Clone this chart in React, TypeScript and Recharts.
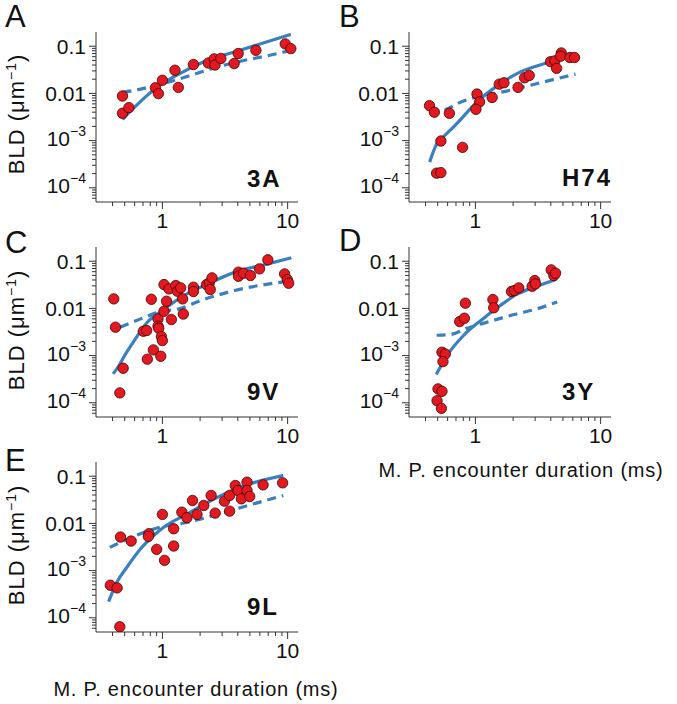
import React from 'react'
import { ScatterChart, Scatter, XAxis, YAxis } from 'recharts'

// axis ticks
const xMajorTicks = [1, 10]
const xMajorLabels = ['1', '10']
const xMinorMult = [2, 3, 4, 5, 6, 7, 8, 9]
const yMajorTicks = [0.0001, 0.001, 0.01, 0.1]
const yMajorLabels = [['10', '−4'], ['10', '−3'], ['0.01', ''], ['0.1', '']]

// panel A (3A)
const dotsX_3A = [0.48, 0.48, 0.54, 0.88, 0.93, 1.0, 1.26, 1.34, 1.77, 2.33, 2.59, 2.63, 2.93, 3.74, 4.03, 5.58, 9.57, 10.6]
const dotsY_3A = [0.0088, 0.0038, 0.005, 0.0132, 0.0099, 0.019, 0.031, 0.0134, 0.041, 0.044, 0.054, 0.04, 0.055, 0.043, 0.07, 0.082, 0.112, 0.089]
const solidX_3A = [0.48, 0.6, 0.76, 1.0, 1.17, 1.4, 2.15, 3.98, 10.6]
const solidY_3A = [0.0028, 0.0051, 0.0092, 0.0165, 0.0207, 0.027, 0.047, 0.079, 0.178]
const dashX_3A = [0.48, 0.61, 1.0, 1.68, 2.43, 3.74, 7.36, 10.3]
const dashY_3A = [0.0105, 0.0117, 0.016, 0.024, 0.033, 0.045, 0.065, 0.08]

// panel B (H74)
const dotsX_H74 = [0.43, 0.47, 0.62, 0.53, 0.79, 0.49, 0.53, 1.03, 1.08, 1.01, 1.36, 1.55, 1.69, 2.19, 2.47, 2.69, 3.98, 4.31, 4.45, 4.85, 4.8, 5.68, 6.19]
const dotsY_H74 = [0.0055, 0.004, 0.0038, 0.00098, 0.00072, 0.000204, 0.00021, 0.0097, 0.0066, 0.0046, 0.0082, 0.0157, 0.0168, 0.0134, 0.0214, 0.024, 0.047, 0.049, 0.034, 0.072, 0.0615, 0.0576, 0.0576]
const solidX_H74 = [0.431, 0.494, 0.557, 0.714, 1.03, 1.4, 2.29, 4.23, 4.6]
const solidY_H74 = [0.00035, 0.00088, 0.00121, 0.00232, 0.0066, 0.0128, 0.0286, 0.0506, 0.056]
const dashX_H74 = [0.43, 0.55, 0.72, 1.03, 1.58, 2.59, 4.23, 6.3]
const dashY_H74 = [0.0044, 0.0044, 0.0061, 0.0085, 0.0105, 0.0143, 0.0198, 0.0256]

// panel C (9V)
const dotsX_9V = [0.409, 0.422, 0.486, 0.457, 0.704, 0.749, 0.758, 0.847, 0.816, 0.923, 0.923, 0.935, 0.982, 1.0, 0.97, 1.03, 1.03, 1.08, 1.13, 1.18, 1.28, 1.32, 1.4, 1.45, 1.47, 1.77, 1.77, 2.25, 2.37, 2.41, 2.49, 4.05, 4.05, 4.44, 5.05, 5.96, 6.95, 9.46, 9.94, 10.2]
const dotsY_9V = [0.0159, 0.004, 0.00054, 0.000162, 0.00328, 0.0034, 0.00084, 0.00132, 0.0156, 0.006, 0.0042, 0.0038, 0.00253, 0.00208, 0.00097, 0.0087, 0.032, 0.0142, 0.0259, 0.0058, 0.0305, 0.0231, 0.0272, 0.0159, 0.0076, 0.0281, 0.0228, 0.032, 0.0347, 0.0251, 0.0444, 0.0585, 0.048, 0.0557, 0.0497, 0.0688, 0.107, 0.0538, 0.0408, 0.0342]
const solidX_9V = [0.404, 0.449, 0.499, 0.575, 0.758, 1.0, 1.5, 2.3, 3.76, 6.95, 10.7]
const solidY_9V = [0.00041, 0.00061, 0.001, 0.0018, 0.0051, 0.009, 0.019, 0.033, 0.058, 0.088, 0.118]
const dashX_9V = [0.46, 0.67, 1.0, 1.3, 2.03, 3.76, 9.6]
const dashY_9V = [0.004, 0.006, 0.0088, 0.0095, 0.0147, 0.0239, 0.037]

// panel D (3Y)
const dotsX_3Y = [0.494, 0.503, 0.541, 0.535, 0.541, 0.575, 0.551, 0.749, 0.817, 0.832, 1.38, 1.4, 1.94, 2.05, 2.22, 2.84, 2.98, 3.02, 4.03, 4.23, 4.37]
const dotsY_3Y = [0.000111, 0.000197, 0.000175, 0.0000764, 0.00118, 0.00108, 0.000746, 0.00526, 0.0062, 0.0129, 0.0154, 0.0103, 0.0228, 0.0239, 0.0272, 0.0295, 0.0389, 0.0331, 0.0655, 0.0497, 0.0557]
const solidX_3Y = [0.488, 0.593, 0.807, 1.1, 1.58, 2.15, 3.0, 4.4]
const solidY_3Y = [0.0004, 0.001, 0.0027, 0.0055, 0.0115, 0.02, 0.0286, 0.041]
const dashX_3Y = [0.49, 0.63, 0.86, 1.24, 2.03, 3.11, 4.5]
const dashY_3Y = [0.0027, 0.0028, 0.0038, 0.0051, 0.0074, 0.0098, 0.0137]

// panel E (9L)
const dotsX_9L = [0.384, 0.435, 0.457, 0.463, 0.563, 0.781, 0.772, 0.9, 1.0, 1.04, 1.23, 1.23, 1.43, 1.57, 1.74, 1.89, 2.14, 2.45, 2.64, 3.13, 3.44, 3.44, 3.82, 4.01, 4.27, 4.74, 4.74, 4.98, 6.37, 9.12]
const dotsY_9L = [0.00049, 0.00043, 0.0000646, 0.00514, 0.00423, 0.00605, 0.0053, 0.00282, 0.0155, 0.00165, 0.0077, 0.00332, 0.0173, 0.0132, 0.0306, 0.0155, 0.024, 0.0391, 0.0165, 0.0296, 0.0391, 0.0182, 0.0636, 0.0498, 0.0332, 0.0747, 0.0498, 0.0372, 0.0656, 0.0723]
const solidX_9L = [0.372, 0.435, 0.523, 0.67, 0.857, 1.03, 1.59, 2.6, 4.54, 9.23]
const solidY_9L = [0.00022, 0.00058, 0.0012, 0.0029, 0.0056, 0.0084, 0.016, 0.0332, 0.0636, 0.103]
const dashX_9L = [0.38, 0.592, 0.97, 1.49, 2.6, 4.83, 9.23]
const dashY_9L = [0.0031, 0.0053, 0.0084, 0.0102, 0.0148, 0.024, 0.039]

const FONT = '"Liberation Sans", Arial, Helvetica, sans-serif'
const AXIS = '#333'
const BLUE = '#3a7fbf'
const RED = '#e3191f'

const zip = (xs: number[], ys: number[]) => xs.map((x, i) => ({ x, y: ys[i] }))

const xTicks = [0.1, 1].flatMap((d) => xMinorMult.map((m) => +(m * d).toPrecision(3))).filter((v) => v >= 0.4).concat(xMajorTicks).sort((a, b) => a - b)
const yTicks = [0.00001, 0.0001, 0.001, 0.01]
  .flatMap((d) => xMinorMult.map((m) => +(m * d).toPrecision(3)))
  .filter((v) => v > 0.00005 && v < 0.2)
  .concat(yMajorTicks)
  .sort((a, b) => a - b)

const isMajor = (list: number[], v: number) => list.findIndex((t) => Math.abs(t - v) / t < 1e-6)

function XTick(props: any) {
  const { x, y, payload } = props
  const i = isMajor(xMajorTicks, payload.value)
  if (i < 0) return <line x1={x} x2={x} y1={y} y2={y + 4} stroke={AXIS} />
  return (
    <g>
      <line x1={x} x2={x} y1={y} y2={y + 7} stroke={AXIS} />
      <text x={x} y={y + 25.5} textAnchor="middle" fontSize={21} fontFamily={FONT} fill="#111">
        {xMajorLabels[i]}
      </text>
    </g>
  )
}

function YTick(props: any) {
  const { x, y, payload } = props
  const i = isMajor(yMajorTicks, payload.value)
  if (i < 0) return <line x1={x} x2={x - 4} y1={y} y2={y} stroke={AXIS} />
  const [base, exp] = yMajorLabels[i]
  return (
    <g>
      <line x1={x} x2={x - 7} y1={y} y2={y} stroke={AXIS} />
      {exp ? (
        <text x={x - 10} y={y + 5.5} textAnchor="end" fontSize={21} fontFamily={FONT} fill="#111">
          <tspan>{base}</tspan>
          <tspan dy={-10} fontSize={14}>{exp}</tspan>
        </text>
      ) : (
        <text x={x - 10} y={y + 7.5} textAnchor="end" fontSize={21} fontFamily={FONT} fill="#111">
          {base}
        </text>
      )}
    </g>
  )
}

const Dot = (p: any) => <circle cx={p.cx} cy={p.cy} r={5.2} fill={RED} stroke="#3b0505" strokeWidth={0.8} />
const NoDot = () => <g />

function Panel({ left, top, dots, solid, dash }: any) {
  return (
    <div style={{ position: 'absolute', left, top }}>
      <ScatterChart width={302} height={220} margin={{ top: 10, right: 20, bottom: 0, left: 0 }}>
        <XAxis
          type="number"
          dataKey="x"
          scale="log"
          domain={[0.295, 12.1]}
          allowDataOverflow
          ticks={xTicks}
          interval={0}
          height={40}
          tickSize={0}
          tickMargin={0}
          tickLine={false}
          stroke={AXIS}
          tick={(p: any) => <XTick {...p} />}
        />
        <YAxis
          type="number"
          dataKey="y"
          scale="log"
          domain={[0.00005, 0.2]}
          allowDataOverflow
          ticks={yTicks}
          interval={0}
          width={80}
          tickSize={0}
          tickMargin={0}
          tickLine={false}
          stroke={AXIS}
          tick={(p: any) => <YTick {...p} />}
        />
        <Scatter
          data={dash}
          fill={BLUE}
          line={{ stroke: BLUE, strokeWidth: 3.2, strokeDasharray: '9 6' }}
          lineJointType="monotoneX"
          shape={NoDot}
          isAnimationActive={false}
        />
        <Scatter
          data={solid}
          fill={BLUE}
          line={{ stroke: BLUE, strokeWidth: 3.2 }}
          lineJointType="monotoneX"
          shape={NoDot}
          isAnimationActive={false}
        />
        <Scatter data={dots} fill={RED} shape={Dot} isAnimationActive={false} />
      </ScatterChart>
    </div>
  )
}

const panels = [
  { key: 'A', name: '3A', left: 15.5, top: 22, dots: zip(dotsX_3A, dotsY_3A), solid: zip(solidX_3A, solidY_3A), dash: zip(dashX_3A, dashY_3A) },
  { key: 'B', name: 'H74', left: 328.7, top: 22, dots: zip(dotsX_H74, dotsY_H74), solid: zip(solidX_H74, solidY_H74), dash: zip(dashX_H74, dashY_H74) },
  { key: 'C', name: '9V', left: 15.5, top: 236.7, dots: zip(dotsX_9V, dotsY_9V), solid: zip(solidX_9V, solidY_9V), dash: zip(dashX_9V, dashY_9V) },
  { key: 'D', name: '3Y', left: 328.7, top: 236.7, dots: zip(dotsX_3Y, dotsY_3Y), solid: zip(solidX_3Y, solidY_3Y), dash: zip(dashX_3Y, dashY_3Y) },
  { key: 'E', name: '9L', left: 15.5, top: 451.5, dots: zip(dotsX_9L, dotsY_9L), solid: zip(solidX_9L, solidY_9L), dash: zip(dashX_9L, dashY_9L) },
]

// text placement (letter, name, y-title, x-title)
const letterPos = [[5, 27], [339, 27], [5, 253], [339, 251], [5, 471]]
const namePos = [[247, 187], [562, 186], [247, 400], [562, 400], [247, 615]]
const yTitleY = [114, null, 330, null, 545]
const xTitlePos = [null, null, null, [521, 476.7], [196, 695.7]]

function BldTitle({ cy }: { cy: number }) {
  return (
    <text x={23.5} y={cy} transform={`rotate(-90 23.5 ${cy})`} textAnchor="middle" fontSize={22} letterSpacing={1} fontFamily={FONT} fill="#111">
      BLD (μm<tspan dy={-8} fontSize={14}>−1</tspan><tspan dy={8}>)</tspan>
    </text>
  )
}

export default function App() {
  return (
    <div style={{ position: 'absolute', left: 0, top: 0, width: 677, height: 704, background: '#fff', fontFamily: FONT }}>
      {panels.map((p) => (
        <Panel key={p.key} {...p} />
      ))}
      <svg width={677} height={704} style={{ position: 'absolute', left: 0, top: 0, pointerEvents: 'none' }}>
        {panels.map((p, i) => (
          <g key={p.key}>
            <text x={letterPos[i][0]} y={letterPos[i][1]} fontSize={31} fontFamily={FONT} fill="#111">{p.key}</text>
            <text x={namePos[i][0]} y={namePos[i][1]} fontSize={24} fontWeight="bold" letterSpacing={2} fontFamily={FONT} fill="#111">{p.name}</text>
            {yTitleY[i] != null && <BldTitle cy={yTitleY[i] as number} />}
            {xTitlePos[i] && (
              <text x={xTitlePos[i]![0]} y={xTitlePos[i]![1]} textAnchor="middle" fontSize={20} letterSpacing={0.8} fontFamily={FONT} fill="#111">
                M. P. encounter duration (ms)
              </text>
            )}
          </g>
        ))}
      </svg>
    </div>
  )
}
